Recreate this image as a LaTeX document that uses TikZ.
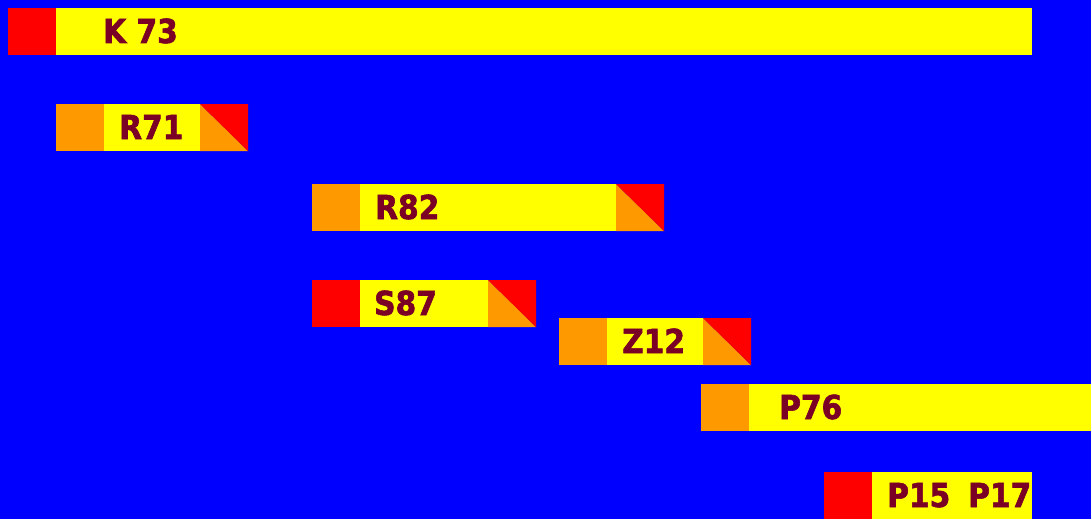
\documentclass[tikz,border=0pt]{standalone}
\usepackage{fontspec}
\setmainfont{DejaVu Sans Condensed}[BoldFont={DejaVu Sans Condensed Bold},
  BoldFeatures={FakeBold=1.8}]
\definecolor{bgblue}{RGB}{0,0,255}
\definecolor{baryellow}{RGB}{255,255,0}
\definecolor{capred}{RGB}{255,0,0}
\definecolor{caporange}{RGB}{255,153,0}
\definecolor{labelred}{RGB}{122,0,38}
\tikzset{
  lbl/.style={anchor=base west, inner sep=0pt, text=labelred,
              font=\fontsize{33}{33}\selectfont\bfseries},
}
% start cap: #1 colour, #2 x, #3 y
\newcommand\startcap[3]{\fill[#1] (#2,#3) rectangle ++(48,47);}
% yellow body: #1 x0, #2 x1, #3 y
\newcommand\barbody[3]{\fill[baryellow] (#1,#3) rectangle (#2,#3+47);}
% finishing cap split on the diagonal: #1 x, #2 y
\newcommand\finishcap[2]{%
  \fill[caporange] (#1,#2) -- (#1+48,#2+47) -- (#1,#2+47) -- cycle;
  \fill[capred] (#1,#2) -- (#1+48,#2) -- (#1+48,#2+47) -- cycle;}
\begin{document}
\begin{tikzpicture}[x=1pt,y=-1pt]
\fill[bgblue] (0,0) rectangle (1091,519);
\useasboundingbox (0,0) rectangle (1091,519);

% K 73
\startcap{capred}{8}{8}
\barbody{56}{1032}{8}
\node[lbl] (k73) at (103,43) {K 73};

% R71
\startcap{caporange}{56}{104}
\barbody{104}{200}{104}
\finishcap{200}{104}
\node[lbl] (r71) at (119,139) {R71};

% R82
\startcap{caporange}{312}{184}
\barbody{360}{616}{184}
\finishcap{616}{184}
\node[lbl] (r82) at (375,219) {R82};

% S87
\startcap{capred}{312}{280}
\barbody{360}{488}{280}
\finishcap{488}{280}
\node[lbl] (s87) at (374,315) {S87};

% Z12
\startcap{caporange}{559}{318}
\barbody{607}{703}{318}
\finishcap{703}{318}
\node[lbl] (z12) at (622,353) {Z12};

% P76
\startcap{caporange}{701}{384}
\barbody{749}{1091}{384}
\node[lbl] (p76) at (779,419) {P76};

% P15 P17
\startcap{capred}{824}{472}
\barbody{872}{1032}{472}
\node[lbl] (p15) at (887,507) {P15};
\node[lbl] (p17) at (968,507) {P17};
\end{tikzpicture}
\end{document}
